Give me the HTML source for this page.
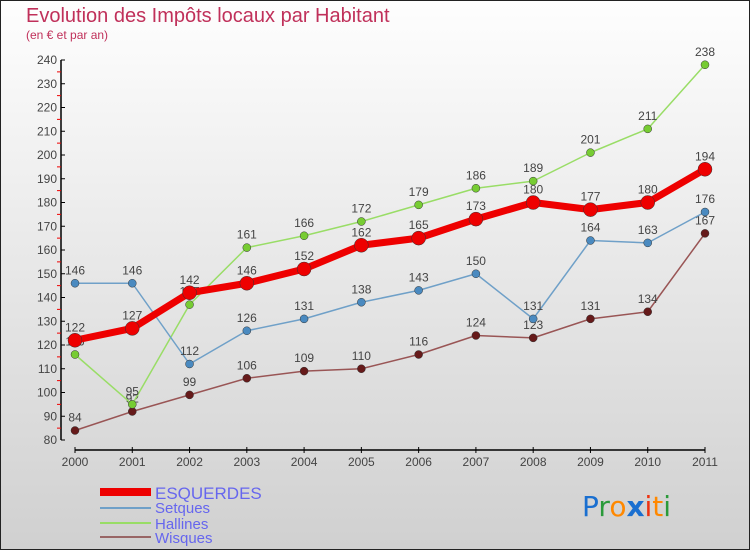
<!DOCTYPE html>
<html><head><meta charset="utf-8"><style>
body{margin:0;width:750px;height:550px;overflow:hidden;font-family:"Liberation Sans",sans-serif}
svg{display:block}
</style></head><body>
<svg id="chart" width="750" height="550">
<defs><linearGradient id="bg" x1="0" y1="0" x2="0" y2="1"><stop offset="0" stop-color="#fefefe"/><stop offset="1" stop-color="#d0d0d0"/></linearGradient></defs>
<rect x="0.5" y="0.5" width="749" height="549" fill="url(#bg)" stroke="#222"/>
<text x="26" y="22" font-size="20" fill="#c0305a">Evolution des Impôts locaux par Habitant</text>
<text x="26" y="39" font-size="12" fill="#c0305a">(en € et par an)</text>
<g id="axes"></g><g id="series"></g>
<g>
<rect x="100" y="488" width="51" height="8" fill="#ee0000"/>
<text x="155" y="499" font-size="17" fill="#6666ee">ESQUERDES</text>
<line x1="100" y1="508" x2="151" y2="508" stroke="#6fa0c8" stroke-width="2"/>
<text x="155" y="513" font-size="15" fill="#6666ee">Setques</text>
<line x1="100" y1="523" x2="151" y2="523" stroke="#99dd66" stroke-width="2"/>
<text x="155" y="529" font-size="15" fill="#6666ee">Hallines</text>
<line x1="100" y1="537" x2="151" y2="537" stroke="#996666" stroke-width="2"/>
<text x="155" y="543" font-size="15" fill="#6666ee">Wisques</text>
</g>
<text x="582" y="516" font-size="28" font-family="DejaVu Sans"><tspan fill="#1a6fd0">P</tspan><tspan fill="#2a9a3a">r</tspan><tspan fill="#ff8800">o</tspan><tspan fill="#1a6fd0" font-weight="bold">x</tspan><tspan fill="#ee3311">i</tspan><tspan fill="#ff8800">t</tspan><tspan fill="#2a9a3a">i</tspan></text>
</svg>
<script>
const years=[2000,2001,2002,2003,2004,2005,2006,2007,2008,2009,2010,2011];
const esquerdes=[122,127,142,146,152,162,165,173,180,177,180,194];
const setques=[146,146,112,126,131,138,143,150,131,164,163,176];
const hallines=[116,95,137,161,166,172,179,186,189,201,211,238];
const wisques=[84,92,99,106,109,110,116,124,123,131,134,167];
const yTicks=[80,90,100,110,120,130,140,150,160,170,180,190,200,210,220,230,240];
const NS="http://www.w3.org/2000/svg";
const xs=i=>75+i*(630/11);
const ys=v=>440-(v-80)*(380/160);
function mk(tag,attrs,parent){const e=document.createElementNS(NS,tag);for(const k in attrs)e.setAttribute(k,attrs[k]);parent.appendChild(e);return e;}
const ax=document.getElementById('axes');
let l=mk('line',{x1:61,y1:ys(240),x2:61,y2:ys(80),stroke:'#000','stroke-width':1.5},ax);


l=mk('line',{x1:75,y1:450,x2:705,y2:450,stroke:'#000','stroke-width':1.5},ax);


yTicks.forEach((v,i)=>{
 mk('line',{x1:61,y1:ys(v),x2:65,y2:ys(v),stroke:'#000'},ax);
 if(i<yTicks.length-1)mk('line',{x1:57,y1:ys(v+5),x2:61,y2:ys(v+5),stroke:'#e00'},ax);
 const t=mk('text',{x:57,y:ys(v)+4,'font-size':12,fill:'#444','text-anchor':'end'},ax);t.textContent=v;
 
 
});
years.forEach((y,i)=>{
 mk('line',{x1:xs(i),y1:447,x2:xs(i),y2:453,stroke:'#000'},ax);
 const t=mk('text',{x:xs(i),y:466,'font-size':12,fill:'#444','text-anchor':'middle'},ax);t.textContent=y;
 
 
});
const sg=document.getElementById('series');
function draw(data,name,color,dot,w,r){
 const g=mk('g',{},sg);
 
 
 const p=mk('polyline',{points:data.map((v,i)=>xs(i)+','+ys(v)).join(' '),fill:'none',stroke:color,'stroke-width':w,'stroke-linejoin':'round'},g);
 
 
 data.forEach((v,i)=>{
  const c=mk('circle',{cx:xs(i),cy:ys(v),r:r,fill:dot,stroke:'#333','stroke-width':0.5},g);
  
  
  const t=mk('text',{x:xs(i),y:ys(v)-9,'font-size':12,fill:'#444','text-anchor':'middle'},g);t.textContent=v;
  
  
 });
}
draw(wisques,'wisques','#995555','#661a1a',1.5,4);
draw(hallines,'hallines','#99dd66','#77cc33',1.5,4);
draw(setques,'setques','#6fa0c8','#4a8ac0',1.5,4);
draw(esquerdes,'esquerdes','#ee0000','#ee0000',7,7);
</script>
</body></html>
